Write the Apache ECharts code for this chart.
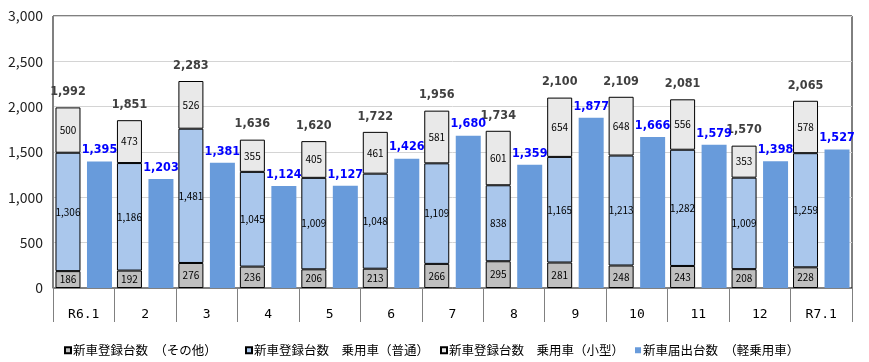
<!DOCTYPE html>
<html>
<head>
<meta charset="utf-8">
<script src="https://cdn.jsdelivr.net/npm/echarts@6/dist/echarts.min.js"></script>
<style>
html,body{margin:0;padding:0;background:#fff;}
#chart{width:869px;height:362px;}
</style>
</head>
<body>
<div id="chart"></div>
<script>
const categories = ['R6.1','2','3','4','5','6','7','8','9','10','11','12','R7.1'];
const otherReg = [186,192,276,236,206,213,266,295,281,248,243,208,228];
const normalReg = [1306,1186,1481,1045,1009,1048,1109,838,1165,1213,1282,1009,1259];
const smallReg = [500,473,526,355,405,461,581,601,654,648,556,353,578];
const keiReport = [1395,1203,1381,1124,1127,1426,1680,1359,1877,1666,1579,1398,1527];
const regTotals = [1992,1851,2283,1636,1620,1722,1956,1734,2100,2109,2081,1570,2065];
const yTicks = [0,500,1000,1500,2000,2500,3000];

const names = ['新車登録台数　（その他）','新車登録台数　乗用車（普通）','新車登録台数　乗用車（小型）','新車届出台数　（軽乗用車）'];
const fmt = v => Number(v).toLocaleString('en-US');

const chart = echarts.init(document.getElementById('chart'));
const inLabel = {show:true, position:'inside', color:'#000', fontSize:10, fontFamily:'Noto Sans CJK JP', formatter:p=>fmt(p.value)};
const segBase = {type:'bar', stack:'reg', barWidth:25, barGap:'26%'};
const legendLefts = [59, 240, 435, 630];
const legendBase = {top:339, itemWidth:6, itemHeight:6, icon:'rect',
  textStyle:{fontSize:12.5, color:'#000', fontFamily:'Noto Sans CJK JP', padding:[0,0,0,-3]}};
chart.setOption({
  animation:false,
  grid:{left:53, right:17, top:16, bottom:74, show:true, borderColor:'#000', borderWidth:1, backgroundColor:'transparent'},
  legend:names.map((n,i)=>Object.assign({}, legendBase, {data:[n], left:legendLefts[i]})),
  xAxis:{
    type:'category', data:categories,
    axisLine:{show:true, lineStyle:{color:'#808080'}},
    axisTick:{show:true, length:34, lineStyle:{color:'#808080'}},
    axisLabel:{interval:0, margin:20, color:'#000', fontSize:13, fontFamily:'DejaVu Sans Mono'}
  },
  yAxis:{
    type:'value', min:yTicks[0], max:yTicks[yTicks.length-1], interval:500,
    axisLine:{show:true, lineStyle:{color:'#808080'}},
    axisTick:{show:false},
    axisLabel:{margin:10, color:'#222', fontSize:14, fontFamily:'Noto Sans CJK JP', formatter:v=>fmt(v)},
    splitLine:{lineStyle:{color:'#d4d4d4', width:1}}
  },
  series:[
    Object.assign({}, segBase, {name:names[0], data:otherReg,
      itemStyle:{color:'#bfbfbf', borderColor:'#000', borderWidth:1}, label:inLabel}),
    Object.assign({}, segBase, {name:names[1], data:normalReg,
      itemStyle:{color:'#aac7ec', borderColor:'#000', borderWidth:1}, label:inLabel}),
    Object.assign({}, segBase, {name:names[2], data:smallReg,
      itemStyle:{color:'#e9e9e9', borderColor:'#000', borderWidth:1}, label:inLabel}),
    Object.assign({}, segBase, {name:'total', data:regTotals.map(()=>0),
      itemStyle:{color:'transparent', borderWidth:0}, silent:true,
      label:{show:true, position:'top', distance:9, color:'#404040', fontWeight:'bold', fontSize:12.5,
        fontFamily:'DejaVu Sans Condensed', formatter:p=>fmt(regTotals[p.dataIndex])}}),
    {type:'bar', name:names[3], data:keiReport, barWidth:25, barGap:'26%',
      itemStyle:{color:'#689bdb'},
      label:{show:true, position:'top', distance:5, color:'#0000ff', fontWeight:'bold', fontSize:12.5,
        fontFamily:'DejaVu Sans Condensed', formatter:p=>fmt(p.value)}}
  ]
});
</script>
</body>
</html>
